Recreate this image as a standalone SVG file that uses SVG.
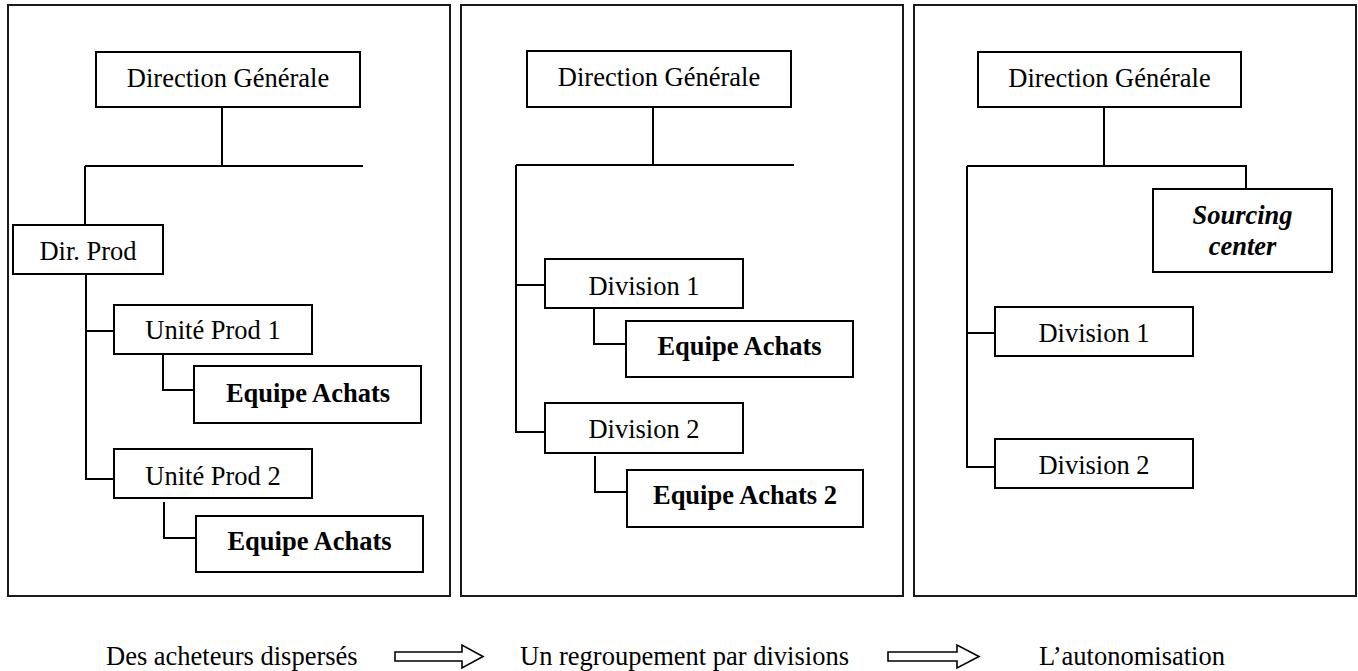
<svg xmlns="http://www.w3.org/2000/svg" width="1358" height="671" viewBox="0 0 1358 671">
<style>
.frame{fill:none;stroke:#1a1a1a;stroke-width:2}
.box{fill:#fff;stroke:#000;stroke-width:2}
.con{fill:none;stroke:#000;stroke-width:2}
.t{font-family:"Liberation Serif","Times New Roman",serif;font-size:26.5px;fill:#000;text-anchor:middle}
.b{font-weight:bold}
.bi{font-weight:bold;font-style:italic}
.arrow{fill:#fff;stroke:#000;stroke-width:1.6}
.cap{font-family:"Liberation Serif","Times New Roman",serif;font-size:26.5px;fill:#000}
</style>
<rect width="1358" height="671" fill="#fff"/>
<g id="panels">
<rect class="frame" x="8" y="5" width="442" height="591"/>
<rect class="frame" x="461" y="5" width="442" height="591"/>
<rect class="frame" x="914" y="5" width="442" height="591"/>
</g>
<g id="connectors">
<path class="con" d="M222,107 V166 M85,166 H363 M85,166 V225 M86,274 V479 H114 M86,331 H114 M163,354 V390 H194 M164,502 V538 H196"/>
<path class="con" d="M653,107 V165 M516,165 H794 M516,165 V432 H545 M516,285 H545 M594,308 V344 H626 M595,456 V492 H627"/>
<path class="con" d="M1104,107 V166 M967,166 H1246 V189 M967,166 V467 H995 M967,333 H995"/>
</g>
<g id="p1-dg"><rect class="box" x="96" y="52" width="264" height="55"/><text class="t" x="228" y="87">Direction Générale</text></g>
<g id="p1-dirprod"><rect class="box" x="13" y="225" width="150" height="49"/><text class="t" x="88" y="260">Dir. Prod</text></g>
<g id="p1-up1"><rect class="box" x="114" y="305" width="198" height="49"/><text class="t" x="213" y="339">Unité Prod 1</text></g>
<g id="p1-ea1"><rect class="box" x="194" y="366" width="227" height="57"/><text class="t b" x="308" y="402">Equipe Achats</text></g>
<g id="p1-up2"><rect class="box" x="114" y="449" width="198" height="49"/><text class="t" x="213" y="485">Unité Prod 2</text></g>
<g id="p1-ea2"><rect class="box" x="196" y="516" width="227" height="56"/><text class="t b" x="309.5" y="550">Equipe Achats</text></g>
<g id="p2-dg"><rect class="box" x="527" y="51" width="264" height="56"/><text class="t" x="659" y="86">Direction Générale</text></g>
<g id="p2-div1"><rect class="box" x="545" y="259" width="198" height="49"/><text class="t" x="644" y="295">Division 1</text></g>
<g id="p2-ea"><rect class="box" x="626" y="321" width="227" height="56"/><text class="t b" x="739.5" y="355">Equipe Achats</text></g>
<g id="p2-div2"><rect class="box" x="545" y="403" width="198" height="50"/><text class="t" x="644" y="438">Division 2</text></g>
<g id="p2-ea2"><rect class="box" x="627" y="470" width="236" height="57"/><text class="t b" x="745" y="504">Equipe Achats 2</text></g>
<g id="p3-dg"><rect class="box" x="978" y="52" width="263" height="55"/><text class="t" x="1109.5" y="87">Direction Générale</text></g>
<g id="p3-sc"><rect class="box" x="1153" y="189" width="179" height="83"/><text class="t bi" x="1242.5" y="224">Sourcing</text><text class="t bi" x="1242.5" y="255">center</text></g>
<g id="p3-div1"><rect class="box" x="995" y="307" width="198" height="49"/><text class="t" x="1094" y="342">Division 1</text></g>
<g id="p3-div2"><rect class="box" x="995" y="439" width="198" height="49"/><text class="t" x="1094" y="474">Division 2</text></g>
<g id="captions">
<text class="cap" x="106" y="665">Des acheteurs dispersés</text>
<path class="arrow" d="M395,652 H462 V645 L483,656.5 L462,668 V661 H395 Z"/>
<text class="cap" x="520" y="665">Un regroupement par divisions</text>
<path class="arrow" d="M888,652 H957 V645 L979,656.5 L957,668 V661 H888 Z"/>
<text class="cap" x="1039" y="665">L’autonomisation</text>
</g>
</svg>
